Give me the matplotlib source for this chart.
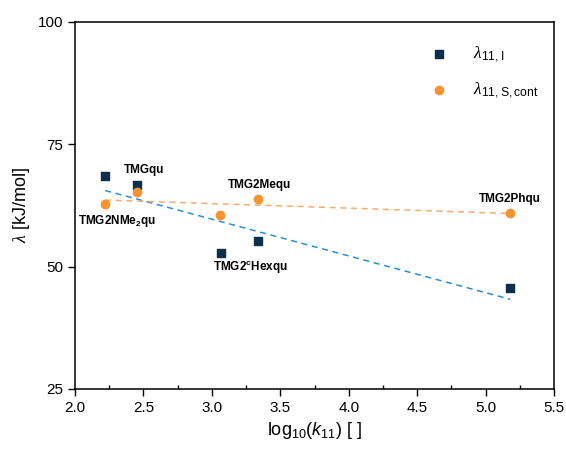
import numpy as np
import matplotlib
matplotlib.use('Agg')
import matplotlib.pyplot as plt
from matplotlib.ticker import MultipleLocator

plt.rcParams['font.family'] = ['Liberation Sans', 'DejaVu Sans']
plt.rcParams['mathtext.fontset'] = 'custom'
plt.rcParams['mathtext.rm'] = 'Liberation Sans'
plt.rcParams['mathtext.it'] = 'Liberation Sans:italic'
plt.rcParams['mathtext.bf'] = 'Liberation Sans:bold'
plt.rcParams['mathtext.cal'] = 'Liberation Serif:italic'

# data
names = ['TMG2NMe$_{\\mathbf{2}}$qu', 'TMGqu', 'TMG2$^{\\mathbf{c}}$Hexqu', 'TMG2Mequ', 'TMG2Phqu']
x_I = [2.22, 2.45, 3.07, 3.34, 5.18]
lam_I = [68.5, 66.7, 52.8, 55.3, 45.6]
x_S = [2.22, 2.45, 3.06, 3.34, 5.18]
lam_S = [62.8, 65.2, 60.5, 63.7, 60.9]

label_x = [2.31, 2.36, 3.28, 3.35, 5.18]
label_y = [59.3, 69.7, 49.7, 66.6, 63.8]
label_ha = ['center', 'left', 'center', 'center', 'center']

navy = '#0d2f4c'
orange = '#f7942f'

fig = plt.figure(figsize=(5.66, 4.51), dpi=100)
ax = fig.add_axes([0.1325, 0.1375, 0.8465, 0.8145])

# fit lines
pI = np.polyfit(x_I, lam_I, 1)
pS = np.polyfit(x_S, lam_S, 1)
xx = np.array([min(x_I), max(x_I)])
ax.plot(xx, np.polyval(pI, xx), '--', color='#2b8fd1', lw=1.1, dashes=(4, 3))
ax.plot(xx, np.polyval(pS, xx), '--', color='#f6ad6a', lw=1.1, dashes=(4, 3))

ax.scatter(x_I, lam_I, marker='s', s=30, color=navy, label=r'$\mathcal{\lambda}_{11,\mathrm{I}}$', zorder=3)
ax.scatter(x_S, lam_S, marker='o', s=36, color=orange, label=r'$\mathcal{\lambda}_{11,\mathrm{S,cont}}$', zorder=3)

for n, lx, ly, ha in zip(names, label_x, label_y, label_ha):
    ax.text(lx, ly, n, fontsize=8.5, fontweight='bold', ha=ha, va='center')

ax.set_xlim(2.0, 5.5)
ax.set_ylim(25, 100)
ax.xaxis.set_major_locator(MultipleLocator(0.5))
ax.xaxis.set_minor_locator(MultipleLocator(0.25))
ax.yaxis.set_major_locator(MultipleLocator(25))
ax.tick_params(axis='both', which='major', direction='out', length=5, width=1, labelsize=11, top=False, right=False)
ax.tick_params(axis='x', which='minor', direction='in', length=3, width=1, top=False)
for sp in ax.spines.values():
    sp.set_linewidth(1.1)

ax.set_xlabel(r'log$_{10}$($k_{11}$) [ ]', fontsize=13)
ax.set_ylabel(r'$\mathcal{\lambda}$ [kJ/mol]', fontsize=13)

ax.legend(loc='upper left', bbox_to_anchor=(0.7, 0.98), frameon=False, fontsize=12.5,
          handletextpad=1.2, labelspacing=0.9, handlelength=1.5)

fig.savefig('out.png', dpi=100)
